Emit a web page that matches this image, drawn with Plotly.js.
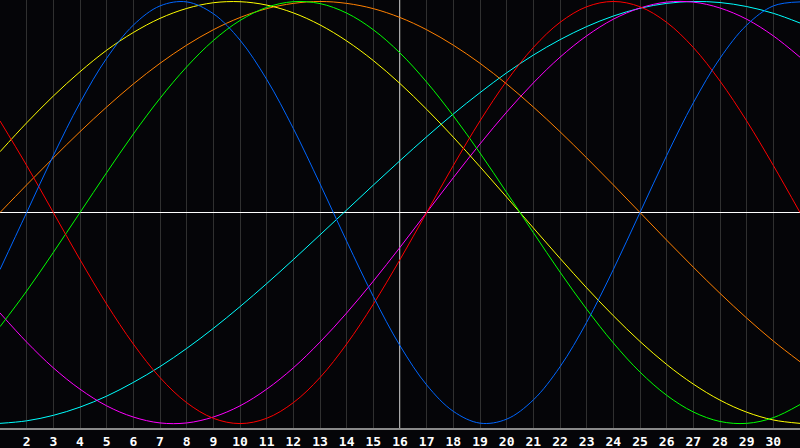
<!DOCTYPE html>
<html>
<head>
<meta charset="utf-8">
<script src="https://cdn.plot.ly/plotly-3.0.1.min.js"></script>
<style>
  html, body { margin: 0; padding: 0; background: #050508; }
  #plot { width: 800px; height: 448px; }
</style>
</head>
<body>
<div id="plot"></div>
<script>
// days shown on the chart
var days = [1,2,3,4,5,6,7,8,9,10,11,12,13,14,15,16,17,18,19,20,21,22,23,24,25,26,27,28,29,30,31];
var tickDays = [2,3,4,5,6,7,8,9,10,11,12,13,14,15,16,17,18,19,20,21,22,23,24,25,26,27,28,29,30];
var today = 16;

// values, one per day (-1 .. 1)
var red = [0.434,0.223,0,-0.223,-0.434,-0.623,-0.782,-0.901,-0.975,-1.000,-0.975,-0.901,-0.782,-0.623,-0.434,-0.223,
           0,0.223,0.434,0.623,0.782,0.901,0.975,1.000,0.975,0.901,0.782,0.623,0.434,0.223,0];
var blue = [-0.270,0,0.270,0.520,0.731,0.888,0.979,0.998,0.942,0.817,0.631,0.398,0.136,-0.136,-0.398,-0.631,
            -0.817,-0.942,-0.998,-0.979,-0.888,-0.731,-0.520,-0.270,0,0.270,0.520,0.731,0.888,0.979,0.998];
var green = [-0.541,-0.372,-0.189,0,0.189,0.372,0.541,0.690,0.815,0.910,0.972,0.999,0.990,0.945,0.866,0.756,
             0.618,0.458,0.282,0.095,-0.095,-0.282,-0.458,-0.618,-0.756,-0.866,-0.945,-0.990,-0.999,-0.972,-0.910];
var yellow = [0.288,0.425,0.552,0.667,0.769,0.853,0.920,0.967,0.994,0.999,0.983,0.946,0.889,0.813,0.720,0.611,
              0.489,0.357,0.217,0.073,-0.073,-0.217,-0.357,-0.489,-0.611,-0.720,-0.813,-0.889,-0.946,-0.983,-0.999];
var orange = [0,0.131,0.259,0.383,0.500,0.609,0.707,0.793,0.866,0.924,0.966,0.991,1.000,0.991,0.966,0.924,
              0.866,0.793,0.707,0.609,0.500,0.383,0.259,0.131,0,-0.131,-0.259,-0.383,-0.500,-0.609,-0.707];
var cyan = [-0.999,-0.987,-0.961,-0.922,-0.870,-0.805,-0.730,-0.644,-0.549,-0.446,-0.337,-0.223,-0.106,0.012,0.130,0.246,
            0.359,0.467,0.568,0.662,0.746,0.819,0.881,0.931,0.968,0.991,1.000,0.995,0.976,0.944,0.898];
var magenta = [-0.476,-0.614,-0.736,-0.837,-0.916,-0.969,-0.997,-0.997,-0.969,-0.916,-0.837,-0.736,-0.614,-0.476,-0.325,-0.165,
               0,0.165,0.325,0.476,0.614,0.736,0.837,0.916,0.969,0.997,0.997,0.969,0.916,0.837,0.736];

function curve(values, color){
    return {
        type: "scatter",
        x: days,
        y: values,
        mode: "lines",
        hoverinfo: "skip",
        line: {color: color, width: 1, shape: "spline", smoothing: 1}
    };
}

var traces = [
    curve(cyan, "#00ffff"),
    curve(magenta, "#ff00ff"),
    curve(orange, "#ff8000"),
    curve(yellow, "#ffff00"),
    curve(green, "#00ff00"),
    curve(red, "#ff0000"),
    curve(blue, "#0066ff")
];

var layout = {
    width: 800,
    height: 448,
    paper_bgcolor: "#050508",
    plot_bgcolor: "#050508",
    showlegend: false,
    hovermode: false,
    margin: {l: 0, r: 0, t: 0, b: 20},
    xaxis: {
        range: [1, 31],
        tickvals: tickDays,
        ticktext: tickDays.map(String),
        ticks: "",
        showgrid: true,
        gridcolor: "#303030",
        gridwidth: 1,
        zeroline: false,
        showline: true,
        linecolor: "#8a8a8a",
        linewidth: 2,
        mirror: true,
        tickfont: {family: "DejaVu Sans Mono, monospace", size: 13, color: "#ffffff", weight: "bold"}
    },
    yaxis: {
        range: [-1.021, 1.007],
        showticklabels: false,
        ticks: "",
        showgrid: false,
        zeroline: true,
        zerolinecolor: "#ffffff",
        zerolinewidth: 1,
        showline: true,
        linecolor: "#8a8a8a",
        linewidth: 2,
        mirror: true
    },
    shapes: [{
        type: "line",
        xref: "x", yref: "paper",
        x0: today, x1: today, y0: 0, y1: 1,
        line: {color: "#ffffff", width: 1.3},
        layer: "below"
    }]
};

Plotly.newPlot("plot", traces, layout, {displayModeBar: false, staticPlot: true});
</script>
</body>
</html>
